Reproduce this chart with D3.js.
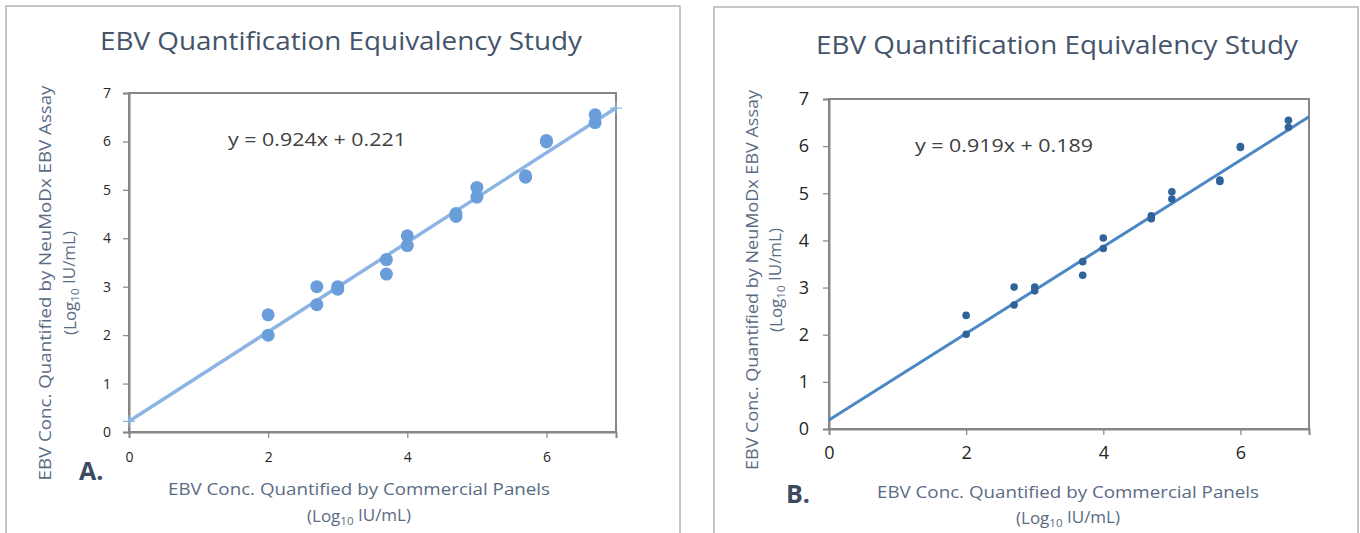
<!DOCTYPE html>
<html>
<head>
<meta charset="utf-8">
<script src="https://cdn.jsdelivr.net/npm/d3@7"></script>
<style>
  body { margin: 0; background: #fff; }
  svg { display: block; font-family: "Open Sans", "Noto Sans", sans-serif; }
</style>
</head>
<body>
<script>
// log10 concentrations from commercial panels (x) — same in both panels
const panelX = [2, 2, 2.7, 2.7, 3, 3, 3.7, 3.7, 4, 4, 4.7, 4.7, 5, 5, 5.7, 5.7, 6, 6, 6.7, 6.7];
// NeuMoDx results, panel A
const panelAY = [2.42, 2.0, 3.0, 2.63, 3.0, 2.95, 3.56, 3.26, 4.05, 3.85, 4.51, 4.45, 5.05, 4.85, 5.29, 5.26, 6.02, 5.99, 6.55, 6.39];
// NeuMoDx results, panel B
const panelBY = [2.41, 2.01, 3.01, 2.63, 3.01, 2.93, 3.55, 3.26, 4.05, 3.83, 4.52, 4.46, 5.03, 4.88, 5.28, 5.25, 5.99, 5.97, 6.55, 6.40];
// trendline fits as printed
const fitA = {slope: 0.924, intercept: 0.221};
const fitB = {slope: 0.919, intercept: 0.189};
const xTicks = [0, 2, 4, 6];
const yTicks = [0, 1, 2, 3, 4, 5, 6, 7];
const chartTitle = "EBV Quantification Equivalency Study";
const yTitle = "EBV Conc.  Quantified by NeuMoDx EBV Assay";
const xTitle = "EBV Conc. Quantified by Commercial Panels";

const width = 1360, height = 533;

const svg = d3.select("body").append("svg")
  .attr("width", width)
  .attr("height", height);

function logUnits(sel) {
  sel.append("tspan").text("(Log");
  sel.append("tspan").attr("font-size", "0.68em").attr("dy", "0.25em").text("10");
  sel.append("tspan").attr("dy", "-0.25em").text(" IU/mL)");
}

function drawPanel(cfg) {
  const g = svg.append("g");

  // outer frame
  g.append("rect")
    .attr("x", cfg.frame[0]).attr("y", cfg.frame[1])
    .attr("width", cfg.frame[2]).attr("height", cfg.frame[3])
    .attr("fill", "#fff").attr("stroke", "#b4b4b4").attr("stroke-width", 1.5);

  const x = d3.scaleLinear().domain([0, 7]).range([cfg.left, cfg.right]);
  const y = d3.scaleLinear().domain([0, 7]).range([cfg.bottom, cfg.top]);

  // plot-area border
  g.append("rect")
    .attr("x", cfg.left).attr("y", cfg.top)
    .attr("width", cfg.right - cfg.left).attr("height", cfg.bottom - cfg.top)
    .attr("fill", "none").attr("stroke", "#868686").attr("stroke-width", 2);

  const xAxis = g.append("g")
    .attr("transform", `translate(0,${cfg.bottom})`)
    .call(d3.axisBottom(x).tickValues(xTicks).tickSize(6).tickPadding(cfg.xPad).tickFormat(d3.format("d")));
  const yAxis = g.append("g")
    .attr("transform", `translate(${cfg.left},0)`)
    .call(d3.axisLeft(y).tickValues(yTicks).tickSize(6).tickPadding(cfg.yPad).tickFormat(d3.format("d")));
  [xAxis, yAxis].forEach(a => {
    a.select(".domain").attr("stroke", "#868686").attr("stroke-width", 2);
    a.selectAll(".tick line").attr("stroke", "#868686").attr("stroke-width", 1.2);
    a.selectAll(".tick text")
      .attr("fill", "#262626")
      .attr("font-size", cfg.tickSize)
      .attr("font-family", "'Open Sans', sans-serif");
  });

  // trendline
  const line = d3.line().x(d => x(d)).y(d => y(cfg.fit.slope * d + cfg.fit.intercept));
  g.append("path")
    .datum([0, 7])
    .attr("d", line)
    .attr("fill", "none")
    .attr("stroke", cfg.lineColor)
    .attr("stroke-width", cfg.lineWidth);

  if (cfg.endMarks) {
    g.selectAll(".endmark").data([0, 7]).enter().append("path")
      .attr("class", "endmark")
      .attr("d", d => {
        const cx = x(d), cy = y(cfg.fit.slope * d + cfg.fit.intercept);
        return `M${cx - 6},${cy}H${cx + 6}M${cx},${cy - 6}V${cy + 6}`;
      })
      .attr("stroke", cfg.lineColor)
      .attr("stroke-width", 1.2);
  }

  // points
  g.selectAll("circle.pt")
    .data(panelX.map((v, i) => [v, cfg.ys[i]]))
    .enter().append("circle")
    .attr("class", "pt")
    .attr("cx", d => x(d[0]))
    .attr("cy", d => y(d[1]))
    .attr("r", cfg.r)
    .attr("fill", cfg.pointColor);

  // equation
  g.append("text")
    .attr("x", cfg.eq[0]).attr("y", cfg.eq[1])
    .attr("font-size", 19)
    .attr("fill", "#404040")
    .attr("textLength", 178).attr("lengthAdjust", "spacingAndGlyphs")
    .text(`y = ${cfg.fit.slope}x + ${cfg.fit.intercept}`);

  // chart title
  g.append("text")
    .attr("x", cfg.title[0]).attr("y", cfg.title[1])
    .attr("text-anchor", "middle")
    .attr("font-size", 26)
    .attr("fill", "#44546A")
    .attr("textLength", 482).attr("lengthAdjust", "spacingAndGlyphs")
    .text(chartTitle);

  // y axis title
  const yt = g.append("g").attr("transform", `translate(${cfg.yTitle[0]},${cfg.yTitle[2]}) rotate(-90)`);
  yt.append("text")
    .attr("x", 0).attr("y", 0)
    .attr("text-anchor", "middle")
    .attr("font-size", 17)
    .attr("fill", "#5A6B84")
    .attr("textLength", cfg.yTitleLen).attr("lengthAdjust", "spacingAndGlyphs")
    .text(yTitle);
  yt.append("text")
    .attr("x", 0).attr("y", cfg.yTitle[1] - cfg.yTitle[0])
    .attr("text-anchor", "middle")
    .attr("font-size", 17)
    .attr("fill", "#5A6B84")
    .call(logUnits);

  // x axis title
  g.append("text")
    .attr("x", cfg.xTitle[0]).attr("y", cfg.xTitle[1])
    .attr("text-anchor", "middle")
    .attr("font-size", 17)
    .attr("fill", "#5A6B84")
    .attr("textLength", 382).attr("lengthAdjust", "spacingAndGlyphs")
    .text(xTitle);
  g.append("text")
    .attr("x", cfg.xTitle[0]).attr("y", cfg.xTitle[2])
    .attr("text-anchor", "middle")
    .attr("font-size", 17)
    .attr("fill", "#5A6B84")
    .call(logUnits);

  // panel letter
  g.append("text")
    .attr("x", cfg.letter[0]).attr("y", cfg.letter[1])
    .attr("font-size", 25)
    .attr("font-weight", "bold")
    .attr("fill", "#3B4A61")
    .text(cfg.label);
}

drawPanel({
  label: "A.",
  frame: [6, 6, 674, 540],
  left: 129, right: 616, top: 93, bottom: 432,
  ys: panelAY, fit: fitA,
  r: 6.5, pointColor: "#6A9EDA",
  lineColor: "#8DB5E3", lineWidth: 3.5, endMarks: true,
  tickSize: 14, xPad: 14, yPad: 12,
  eq: [228, 146],
  title: [341, 50],
  yTitle: [51, 76, 283], yTitleLen: 395,
  xTitle: [359, 495, 522],
  letter: [79, 480]
});

drawPanel({
  label: "B.",
  frame: [714, 7, 644, 540],
  left: 829, right: 1309, top: 99, bottom: 429,
  ys: panelBY, fit: fitB,
  r: 3.8, pointColor: "#2F6399",
  lineColor: "#4A87C4", lineWidth: 3, endMarks: false,
  tickSize: 18, xPad: 11, yPad: 14,
  eq: [915, 152],
  title: [1057, 54],
  yTitle: [758, 782, 280], yTitleLen: 380,
  xTitle: [1068, 498, 524],
  letter: [786, 503]
});
</script>
</body>
</html>
